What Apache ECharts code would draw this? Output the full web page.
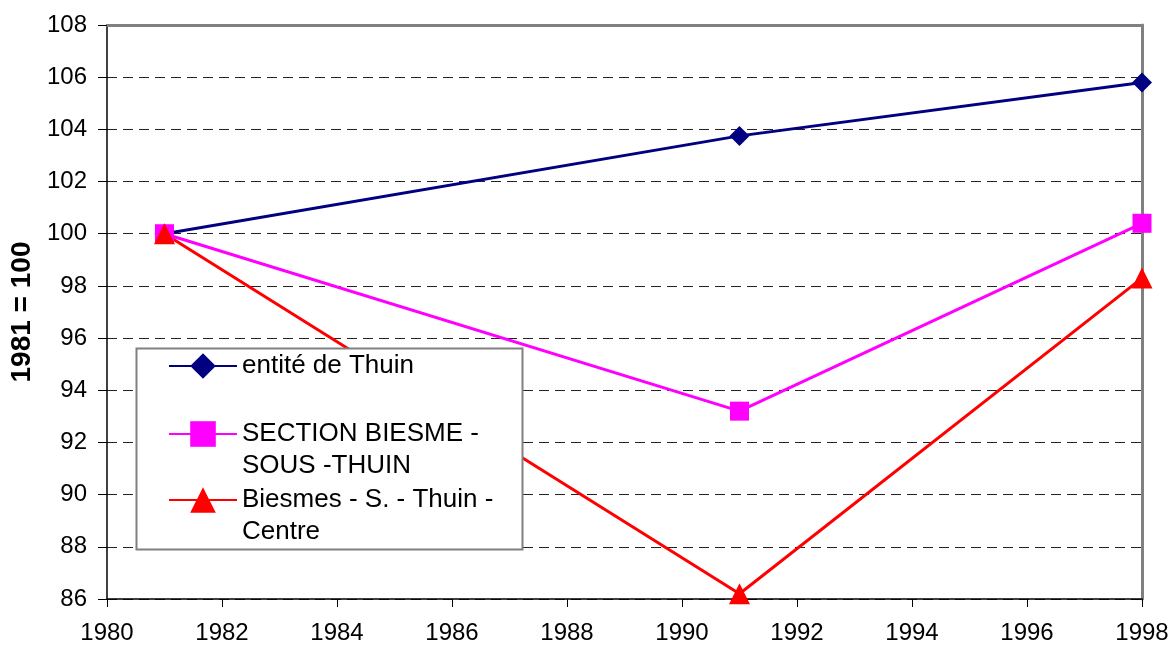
<!DOCTYPE html>
<html>
<head>
<meta charset="utf-8">
<script src="https://cdn.jsdelivr.net/npm/echarts@6/dist/echarts.min.js"></script>
<style>
  html, body { margin: 0; padding: 0; background: #fff; }
  #chart { width: 1173px; height: 645px; }
</style>
</head>
<body>
<div id="chart"></div>
<script>
// données (indice 1981 = 100)
var years = [1981, 1991, 1998];
var thuin = [100, 103.75, 105.8];
var section = [100, 93.2, 100.4];
var centre = [100, 86.2, 98.3];
var names = ['entité de Thuin', 'SECTION BIESME -\nSOUS -THUIN', 'Biesmes - S. - Thuin -\nCentre'];

function pairs(vals) {
  return years.map(function (y, i) { return [y, vals[i]]; });
}

var font = 'Liberation Sans, Arial, sans-serif';
var chart = echarts.init(document.getElementById('chart'));

var legendBase = {
  orient: 'vertical',
  left: 168,
  padding: 0,
  itemWidth: 68,
  itemHeight: 32,
  selectedMode: false,
  z: 20,
  textStyle: { color: '#000', fontSize: 26, fontFamily: font, lineHeight: 32 }
};
// ligne vide en tête : la 1re ligne du texte reste alignée sur le symbole
function shiftDown(name) { return '\n' + name; }

chart.setOption({
  animation: false,
  grid: { left: 107, right: 31, top: 25, bottom: 46, containLabel: false },
  xAxis: [{
    type: 'value',
    min: 1980, max: 1998, interval: 2,
    axisLine: { show: true, lineStyle: { color: '#000', width: 1.5 } },
    axisTick: { show: true, length: 8, lineStyle: { color: '#000' } },
    axisLabel: { color: '#000', fontSize: 24, fontFamily: font, margin: 22, formatter: function (v) { return String(v); } },
    splitLine: { show: false }
  }, {
    // bord supérieur gris
    type: 'value', position: 'top',
    min: 1980, max: 1998, interval: 2,
    axisLine: { show: true, onZero: false, lineStyle: { color: '#808080', width: 3 } },
    axisTick: { show: false }, axisLabel: { show: false }, splitLine: { show: false }
  }],
  yAxis: [{
    type: 'value',
    min: 86, max: 108, interval: 2,
    name: '1981 = 100',
    nameLocation: 'middle',
    nameGap: 70,
    nameTextStyle: { color: '#000', fontSize: 28, fontWeight: 'bold', fontFamily: font },
    axisLine: { show: true, lineStyle: { color: '#000', width: 1.5 } },
    axisTick: { show: true, length: 9, lineStyle: { color: '#000' } },
    axisLabel: { color: '#000', fontSize: 24, fontFamily: font, margin: 20 },
    splitLine: { show: true, lineStyle: { color: '#222', width: 1, type: [10, 6] } }
  }, {
    // bord droit gris
    type: 'value', position: 'right',
    min: 86, max: 108, interval: 2,
    axisLine: { show: true, onZero: false, lineStyle: { color: '#808080', width: 3 } },
    axisTick: { show: false }, axisLabel: { show: false }, splitLine: { show: false }
  }],
  legend: [
    Object.assign({}, legendBase, { top: 350, data: [names[0]] }),
    Object.assign({}, legendBase, { top: 386, data: [names[1]], formatter: shiftDown }),
    Object.assign({}, legendBase, { top: 452, data: [names[2]], formatter: shiftDown })
  ],
  // cadre de la légende, au-dessus des courbes
  graphic: {
    z: 10,
    elements: [{
      type: 'rect',
      z: 10,
      shape: { x: 136.5, y: 348.5, width: 386, height: 201 },
      style: { fill: '#fff', stroke: '#808080', lineWidth: 2 }
    }]
  },
  series: [{
    name: names[0], type: 'line', data: pairs(thuin), z: 2,
    symbol: 'diamond', symbolSize: 20,
    lineStyle: { color: '#000080', width: 3 },
    itemStyle: { color: '#000080' }
  }, {
    name: names[1], type: 'line', data: pairs(section), z: 2,
    symbol: 'rect', symbolSize: 19,
    lineStyle: { color: '#ff00ff', width: 3 },
    itemStyle: { color: '#ff00ff' }
  }, {
    name: names[2], type: 'line', data: pairs(centre), z: 2,
    symbol: 'triangle', symbolSize: 21,
    lineStyle: { color: '#ff0000', width: 3 },
    itemStyle: { color: '#ff0000' }
  }]
});
</script>
</body>
</html>
